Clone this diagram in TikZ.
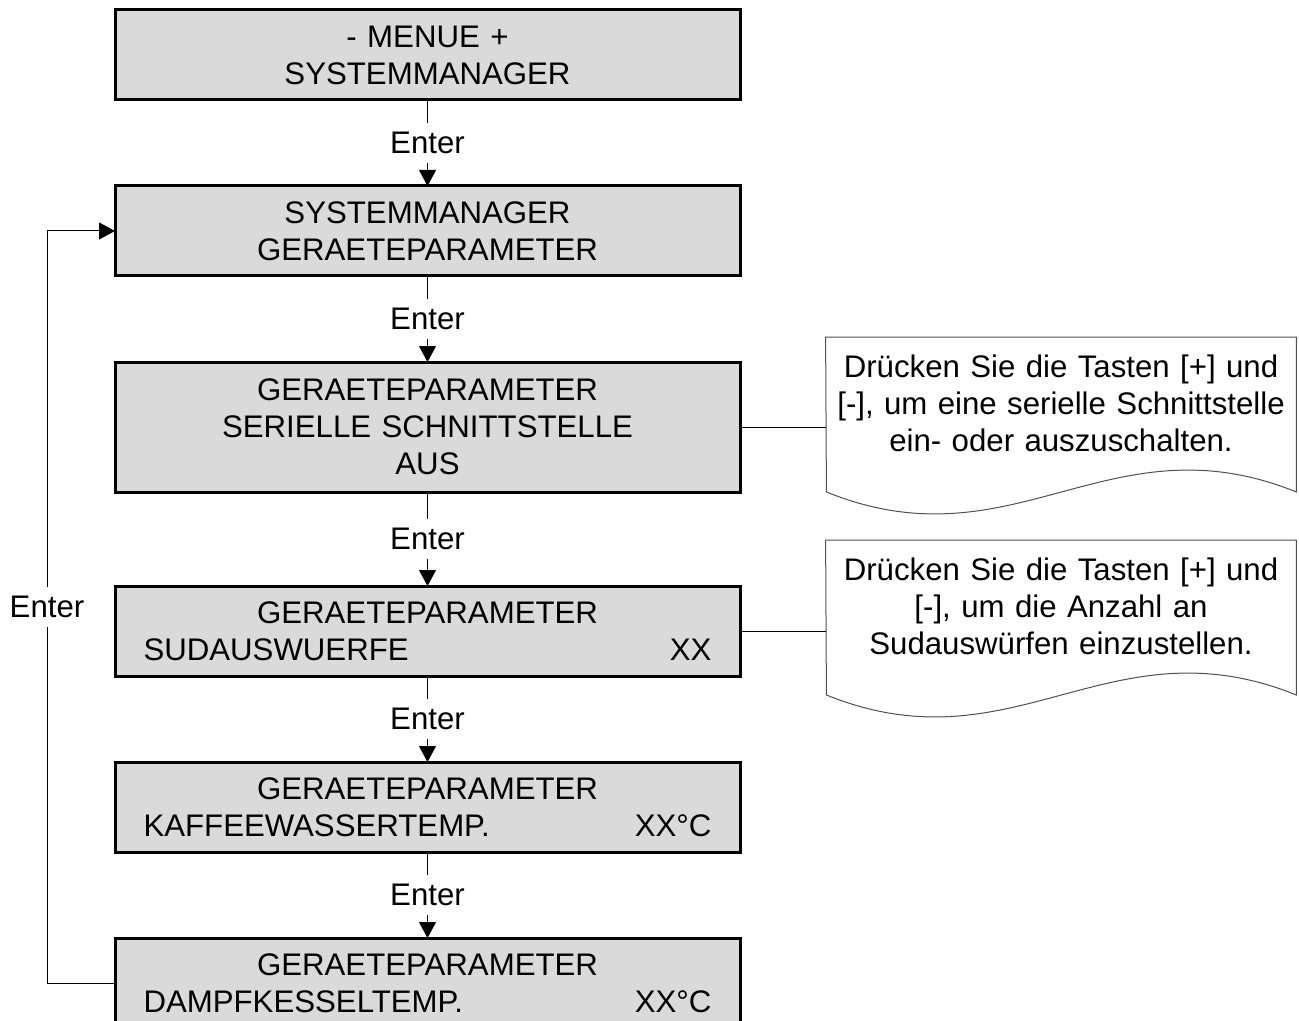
\documentclass[tikz,border=0pt]{standalone}
\usepackage{fontspec}
\setmainfont{Liberation Sans}
\usetikzlibrary{arrows.meta,positioning}
\definecolor{boxgray}{RGB}{218,218,218}
\definecolor{notegray}{RGB}{80,80,80}

\begin{document}
\begin{tikzpicture}[node distance=43pt,
    font=\fontsize{15.6pt}{18.5pt}\selectfont,
    menu/.style={draw,line width=1.5pt,fill=boxgray,minimum width=312.5pt,
      minimum height=45pt,text width=284pt,align=center,inner sep=0pt,outer sep=0pt},
    note/.style={fill=white,minimum width=235pt,text width=231pt,inner xsep=2pt,
      inner ysep=8.5pt,align=center,anchor=north},
    noteline/.style={draw=notegray,line width=0.5pt},
    flow/.style={-{Triangle[length=8pt,width=8.5pt]},line width=0.5pt},
    lab/.style={fill=white,inner xsep=2pt,inner ysep=4.5pt}]
    \useasboundingbox (0,0) rectangle (649.5pt,-510.5pt);
    \node[menu](m1) at (213.75pt,-27.5pt){- MENUE +\\SYSTEMMANAGER};
    \node[menu](m2)[below=of m1]{SYSTEMMANAGER\\GERAETEPARAMETER};
    \node[menu,minimum height=65pt](m3)[below=of m2]{GERAETEPARAMETER\\SERIELLE SCHNITTSTELLE\\AUS};
    \node[menu](m4)[below=47pt of m3]{GERAETEPARAMETER\\SUDAUSWUERFE\hfill XX};
    \node[menu](m5)[below=of m4]{GERAETEPARAMETER\\KAFFEEWASSERTEMP.\hfill XX°C};
    \node[menu](m6)[below=of m5]{GERAETEPARAMETER\\DAMPFKESSELTEMP.\hfill XX°C};
    % hinweise
    \node[note](n1) at (530.5pt,-168.5pt){Drücken Sie die Tasten [+] und\\{}[-], um eine serielle Schnittstelle\\ein- oder auszuschalten.};
    \node[note](n2) at (530.5pt,-270pt){Drücken Sie die Tasten [+] und\\{}[-], um die Anzahl an\\Sudauswürfen einzustellen.};
    \draw[noteline] (n1.north west) -- (n1.north east) -- ++(0,-77.5pt)
      .. controls +(-94pt,38pt) and +(94pt,-38pt) .. ++(-235pt,0) -- cycle;
    \draw[noteline] (n2.north west) -- (n2.north east) -- ++(0,-77.5pt)
      .. controls +(-94pt,38pt) and +(94pt,-38pt) .. ++(-235pt,0) -- cycle;
    \path[flow]
    (m1) edge node[lab]{Enter} (m2)
    (m2) edge node[lab]{Enter} (m3)
    (m3) edge node[lab]{Enter} (m4)
    (m4) edge node[lab]{Enter} (m5)
    (m5) edge node[lab]{Enter} (m6);
    \draw[line width=0.5pt] (m3.east) -- (m3.east -| n1.west);
    \draw[line width=0.5pt] (m4.east) -- (m4.east -| n2.west);
    \draw[flow] (m6.west) -- ++(-34pt,0) |- node[pos=0.25,lab]{Enter} (m2.west);
  \end{tikzpicture}
\end{document}
